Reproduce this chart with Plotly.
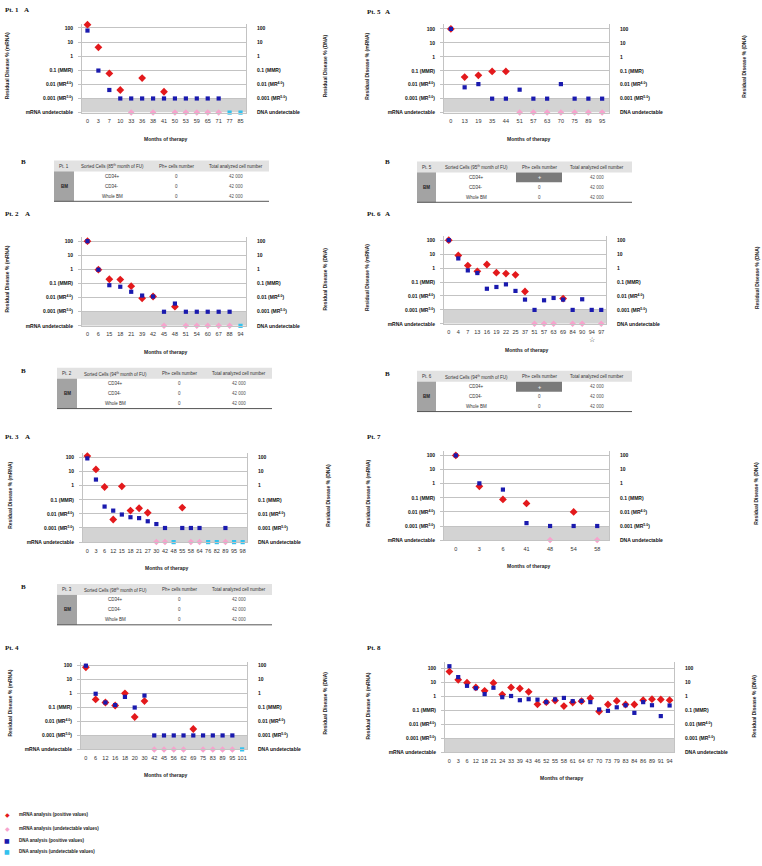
import numpy as np
import plotly.graph_objects as go

W, H = 762, 866
U = "und"  # undetectable marker

# ---------------- data ----------------
pt1_months = ["0", "3", "7", "10", "33", "36", "38", "41", "50", "53", "59", "65", "71", "77", "85"]
pt1_mrna = [170, 4.2, 0.06, 0.004, U, 0.028, U, 0.003, U, U, U, U, U, None, None]
pt1_dna = [65, 0.095, 0.004, 0.001, 0.001, 0.001, 0.001, 0.001, 0.001, 0.001, 0.001, 0.001, 0.001, U, U]

pt5_months = ["0", "13", "19", "35", "44", "51", "57", "63", "70", "75", "89", "95"]
pt5_mrna = [100, 0.035, 0.047, 0.09, 0.09, U, U, U, U, U, U, U]
pt5_dna = [100, 0.0065, 0.011, 0.001, 0.001, 0.0044, 0.001, 0.001, 0.011, 0.001, 0.001, 0.001]

pt2_months = ["0", "6", "15", "18", "21", "39", "42", "45", "48", "51", "54", "60", "67", "88", "94"]
pt2_mrna = [100, 0.95, 0.2, 0.19, 0.065, 0.009, 0.012, U, 0.0023, U, U, U, U, U, None]
pt2_dna = [100, 0.95, 0.076, 0.059, 0.026, 0.014, 0.012, 0.001, 0.0038, 0.001, 0.001, 0.001, 0.001, 0.001, U]

pt6_months = ["0", "4", "7", "13", "16", "19", "22", "25", "37", "51", "57", "63", "69", "84", "90", "94", "97"]
pt6_mrna = [100, 8, 1.5, 0.58, 1.8, 0.47, 0.4, 0.33, 0.021, U, U, U, 0.0065, U, U, None, U]
pt6_dna = [100, 4.9, 0.68, 0.44, 0.033, 0.044, 0.068, 0.023, 0.0055, 0.001, 0.0049, 0.0072, 0.0055,
           0.001, 0.0058, 0.001, 0.001]

pt3_months = ["0", "3", "6", "12", "15", "18", "21", "27", "30", "42", "48", "55", "58", "64", "76", "82",
              "89", "95", "98"]
pt3_mrna = [125, 14, 0.8, 0.004, 0.9, 0.017, 0.025, 0.012, U, U, None, 0.028, U, U, None, None, U, None, None]
pt3_dna = [85, 2.7, 0.033, 0.017, 0.009, 0.0058, 0.005, 0.003, 0.0019, 0.001, U, 0.001, 0.001, 0.001, U, U,
           0.001, U, U]

pt7_months = ["0", "3", "6", "41", "48", "54", "58"]
pt7_mrna = [100, 0.65, 0.076, 0.04, U, 0.01, U]
pt7_dna = [100, 1.05, 0.38, 0.0016, 0.001, 0.001, 0.001]

pt4_months = ["0", "6", "12", "16", "18", "20", "30", "42", "45", "56", "62", "69", "75", "83", "89", "95", "101"]
pt4_mrna = [76, 0.38, 0.23, 0.14, 1.05, 0.021, 0.29, U, U, U, U, 0.0029, U, U, U, U, None]
pt4_dna = [100, 0.97, 0.23, 0.15, 0.58, 0.1, 0.72, 0.001, 0.001, 0.001, 0.001, 0.001, 0.001, 0.001, 0.001,
           0.001, U]

pt8_months = ["0", "3", "6", "12", "18", "21", "24", "33", "39", "43", "46", "52", "55", "58", "61", "64", "67",
              "70", "73", "79", "83", "84", "86", "89", "91", "94"]
pt8_mrna = [62, 16, 10, 4.5, 2.6, 9.5, 1.4, 4.5, 3.8, 2.2, 0.28, 0.4, 0.52, 0.21, 0.37, 0.47, 0.76, 0.085,
            0.27, 0.49, 0.27, 0.27, 0.55, 0.65, 0.62, 0.55]
pt8_dna = [150, 25, 5.9, 4, 1.5, 4.3, 0.9, 1.1, 0.55, 0.65, 0.6, 0.4, 0.63, 0.8, 0.47, 0.49, 0.4, 0.12, 0.095,
           0.17, 0.24, 0.068, 0.4, 0.24, 0.04, 0.23]

level_values = [0.0001, 0.001, 0.01, 0.1, 1, 10, 100]
left_ticks = ["mRNA undetectable", "0.001 (MR<sup>5.0</sup>)", "0.01 (MR<sup>4.0</sup>)", "0.1 (MMR)", "1", "10", "100"]
right_ticks = ["DNA undetectable", "0.001 (MR<sup>5.0</sup>)", "0.01 (MR<sup>4.0</sup>)", "0.1 (MMR)", "1", "10", "100"]

# tables
table_sorted = ["CD34+", "CD34-", "Whole BM"]
table_total = ["42 000", "42 000", "42 000"]
pt1_ph = ["0", "0", "0"]
pt5_ph = ["+", "0", "0"]
pt2_ph = ["0", "0", "0"]
pt6_ph = ["+", "0", "0"]
pt3_ph = ["0", "0", "0"]

legend_labels = ["mRNA analysis (positive values)", "mRNA analysis (undetectable values)",
                 "DNA analysis (positive values)", "DNA analysis (undetectable values)"]

# ---------------- styles ----------------
RED, PINK, BLUE, CYAN = "#e3191c", "#f7a3cd", "#1a1aae", "#33c2ee"
GRID = "#c3c3c3"
BAND = "#d3d3d3"
FONT = "Liberation Sans"
SERIF = "Liberation Serif"

# name, months, mrna, dna, x0, x1, y100, yund, ytop(log), left-title-x, right-title-x
panels = [
    ("Pt. 1", pt1_months, pt1_mrna, pt1_dna, 82, 246, 28, 113, 2.3, 7, 325),
    ("Pt. 5", pt5_months, pt5_mrna, pt5_dna, 444, 609, 29, 113, 2.35, 367, 744),
    ("Pt. 2", pt2_months, pt2_mrna, pt2_dna, 82, 246, 242, 327, 2.3, 7, 325),
    ("Pt. 6", pt6_months, pt6_mrna, pt6_dna, 444, 606, 241, 325, 2.3, 367, 757),
    ("Pt. 3", pt3_months, pt3_mrna, pt3_dna, 83, 247, 459, 544, 2.3, 10, 328),
    ("Pt. 7", pt7_months, pt7_mrna, pt7_dna, 444, 609, 457, 542, 2.3, 368, 756),
    ("Pt. 4", pt4_months, pt4_mrna, pt4_dna, 81, 247, 668, 752, 2.3, 10, 325),
    ("Pt. 8", pt8_months, pt8_mrna, pt8_dna, 445, 674, 671, 755, 2.5, 368, 754),
]

fig = go.Figure()
layout = {}
shapes = []
annotations = []


def px_x(x):
    return x / W


def px_y(y):
    return 1 - y / H


def text(t, x, y, size=5, color="#222", family=FONT, xa="center", ya="middle", angle=0):
    annotations.append(dict(text=t, x=px_x(x), y=px_y(y), xref="paper", yref="paper",
                            xanchor=xa, yanchor=ya, textangle=angle, showarrow=False,
                            font=dict(family=family, size=size, color=color)))


def split(months, vals):
    pos_x, pos_y, und_x = [], [], []
    for m, v in zip(months, vals):
        if v is None:
            continue
        if v == U:
            und_x.append(m)
        else:
            pos_x.append(m)
            pos_y.append(float(np.log10(v)))
    return pos_x, pos_y, und_x


tickvals = [float(np.log10(v)) for v in level_values]

for k, (name, months, mrna, dna, x0, x1, y100, yund, ytop, ltx, rtx) in enumerate(panels):
    n = k + 1
    xkey = "xaxis" if n == 1 else f"xaxis{n}"
    xref = "x" if n == 1 else f"x{n}"
    li, ri = 2 * n - 1, 2 * n
    ylkey = "yaxis" if li == 1 else f"yaxis{li}"
    ylref = "y" if li == 1 else f"y{li}"
    yrkey = f"yaxis{ri}"
    yrref = f"y{ri}"
    dec = (yund - y100) / 6.0
    ytop_px = y100 - (ytop - 2) * dec
    ydom = [px_y(yund), px_y(ytop_px)]
    yrange = [-4, ytop]

    layout[xkey] = dict(domain=[px_x(x0), px_x(x1)], anchor=ylref, type="category",
                        categoryorder="array", categoryarray=months, range=[-0.5, len(months) - 0.5],
                        showgrid=False, zeroline=False, showline=True, linecolor=GRID, linewidth=1,
                        ticks="", tickfont=dict(family=FONT, size=5.5, color="#333"),
                        ticklabelstandoff=3, fixedrange=True)
    common_y = dict(range=yrange, tickmode="array", tickvals=tickvals, zeroline=False, showline=True,
                    linecolor=GRID, linewidth=1, anchor=xref, fixedrange=True,
                    tickfont=dict(family=FONT, size=5, color="#111", weight="bold"),
                    domain=ydom)
    layout[ylkey] = dict(common_y, ticktext=left_ticks, side="left", showgrid=True, gridcolor=GRID,
                         gridwidth=1.4, ticks="outside", ticklen=3, tickcolor=GRID, ticklabelstandoff=4)
    layout[yrkey] = dict(common_y, ticktext=right_ticks, side="right", overlaying=ylref, showgrid=False,
                         ticks="", ticklabelstandoff=9)

    shapes.append(dict(type="rect", xref=f"{xref} domain", yref=ylref, x0=0, x1=1, y0=-4, y1=-3,
                       fillcolor=BAND, line=dict(width=0), layer="below"))

    mx, my, mu = split(months, mrna)
    dx, dy, du = split(months, dna)
    fig.add_trace(go.Scatter(x=mx, y=my, mode="markers", xaxis=xref, yaxis=ylref, cliponaxis=False,
                             marker=dict(symbol="diamond", size=6, color=RED), name=legend_labels[0],
                             showlegend=False))
    fig.add_trace(go.Scatter(x=mu, y=[-4] * len(mu), mode="markers", xaxis=xref, yaxis=ylref,
                             cliponaxis=False, marker=dict(symbol="diamond", size=5, color=PINK),
                             name=legend_labels[1], showlegend=False))
    fig.add_trace(go.Scatter(x=dx, y=dy, mode="markers", xaxis=xref, yaxis=yrref, cliponaxis=False,
                             marker=dict(symbol="square", size=4.2, color=BLUE), name=legend_labels[2],
                             showlegend=False))
    fig.add_trace(go.Scatter(x=du, y=[-4] * len(du), mode="markers", xaxis=xref, yaxis=yrref,
                             cliponaxis=False, marker=dict(symbol="square", size=4.2, color=CYAN),
                             name=legend_labels[3], showlegend=False))

    ymid = (y100 + yund) / 2 - 4
    text("<b>Residual Disease % (mRNA)</b>", ltx, ymid, angle=-90)
    text("<b>Residual Disease % (DNA)</b>", rtx, ymid, angle=-90)
    text("<b>Months of therapy</b>", (x0 + x1) / 2 + 2, yund + 26)

# panel labels
labels = [("Pt. 1", 3, 10), ("A", 22, 10), ("Pt. 5", 365, 12), ("A", 383, 12),
          ("B", 19, 163), ("B", 383, 163),
          ("Pt. 2", 3, 215), ("A", 23, 215), ("Pt. 6", 365, 215), ("A", 383, 215),
          ("B", 19, 372), ("B", 383, 375),
          ("Pt. 3", 3, 439), ("A", 23, 439), ("Pt. 7", 365, 439),
          ("B", 19, 589),
          ("Pt. 4", 3, 650), ("Pt. 8", 365, 650)]
for t, x, y in labels:
    text(f"<b>{t}</b>", x, y, size=7, color="#111", family=SERIF, xa="left")

# star under month 94 of Pt.6
annotations.append(dict(text="☆", x=pt6_months.index("94"), xref="x4", y=px_y(341), yref="paper",
                        xanchor="center", yanchor="middle", showarrow=False,
                        font=dict(family="DejaVu Sans", size=7, color="#222")))

# tables: patient, month, ph values, x0, x1, top, colwidths
tables = [
    ("Pt. 1", "85", pt1_ph, 54, 269, 161, [20, 76, 52, 67]),
    ("Pt. 5", "95", pt5_ph, 417, 632, 162, [19, 80, 46, 70]),
    ("Pt. 2", "94", pt2_ph, 57, 272, 369, [20, 76, 52, 67]),
    ("Pt. 6", "94", pt6_ph, 417, 632, 372, [19, 80, 46, 70]),
    ("Pt. 3", "98", pt3_ph, 57, 272, 586, [20, 76, 52, 67]),
]
HH, RH = 11, 10
for pt, mon, ph, tx0, tx1, ttop, cw in tables:
    edges = tx0 + np.concatenate([[0], np.cumsum(cw)]) / sum(cw) * (tx1 - tx0)
    cx = (edges[:-1] + edges[1:]) / 2
    tbot = ttop + HH + 3 * RH
    header = [pt, f"Sorted Cells ({mon}<sup>th</sup> month of FU)", "Ph+ cells number",
              "Total analyzed cell number"]
    shapes.append(dict(type="rect", xref="paper", yref="paper", x0=px_x(tx0), x1=px_x(tx1),
                       y0=px_y(ttop + HH), y1=px_y(ttop), fillcolor="#e2e2e2", line=dict(width=0)))
    shapes.append(dict(type="rect", xref="paper", yref="paper", x0=px_x(edges[0]), x1=px_x(edges[1]),
                       y0=px_y(tbot), y1=px_y(ttop + HH), fillcolor="#a3a3a3", line=dict(width=0)))
    for h, c in zip(header, cx):
        text(h, c, ttop + HH / 2 + 0.5, size=4.5, color="#333")
    text("<b>BM</b>", cx[0], ttop + HH + 1.5 * RH, size=4.5, color="#222")
    for r in range(3):
        ry = ttop + HH + RH * (r + 0.5)
        text(table_sorted[r], cx[1], ry, size=4.5, color="#333")
        if ph[r] == "+":
            shapes.append(dict(type="rect", xref="paper", yref="paper", x0=px_x(edges[2]), x1=px_x(edges[3]),
                               y0=px_y(ry + RH / 2), y1=px_y(ry - RH / 2), fillcolor="#7a7a7a",
                               line=dict(width=0)))
            text(f"<b>{ph[r]}</b>", cx[2], ry, size=5.5, color="#eeeeee")
        else:
            text(ph[r], cx[2], ry, size=4.5, color="#444")
        text(table_total[r], cx[3], ry, size=4.5, color="#555")
    shapes.append(dict(type="line", xref="paper", yref="paper", x0=px_x(tx0), x1=px_x(tx1),
                       y0=px_y(tbot), y1=px_y(tbot), line=dict(color="#555", width=1)))

# legend (as text keys)
leg_syms = [("◆", RED), ("◆", PINK), ("■", BLUE), ("■", CYAN)]
leg_y = [817, 831, 843, 854]
for (sym, col), lab, ly in zip(leg_syms, legend_labels, leg_y):
    text(sym, 7, ly, size=6, color=col, family="DejaVu Sans")
    text(f"<b>{lab}</b>", 17, ly, size=4.5, color="#222", xa="left")

fig.update_layout(width=W, height=H, margin=dict(l=0, r=0, t=0, b=0), plot_bgcolor="white",
                  paper_bgcolor="white", showlegend=False, shapes=shapes, annotations=annotations,
                  **layout)
fig.write_html("out.html", config={"displayModeBar": False},
               post_script="document.body.style.margin='0px';")
